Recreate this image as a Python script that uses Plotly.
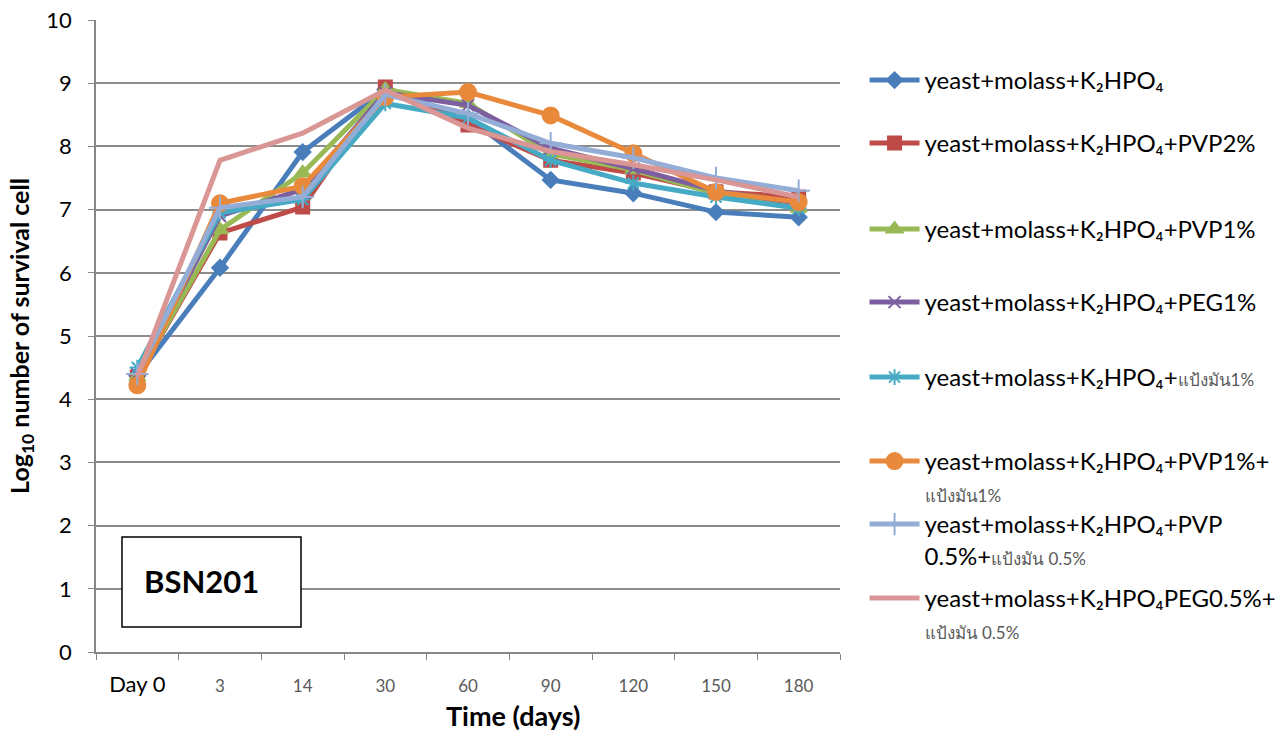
import plotly.graph_objects as go

categories = ["Day 0", "3", "14", "30", "60", "90", "120", "150", "180"]

s_k2hpo4 = [4.37, 6.08, 7.91, 8.90, 8.45, 7.47, 7.26, 6.96, 6.88]
s_pvp2 = [4.35, 6.63, 7.04, 8.94, 8.34, 7.78, 7.58, 7.28, 7.20]
s_pvp1 = [4.35, 6.68, 7.58, 8.90, 8.68, 7.88, 7.63, 7.25, 7.02]
s_peg1 = [4.40, 6.90, 7.32, 8.85, 8.65, 7.97, 7.65, 7.30, 7.10]
s_starch1 = [4.50, 6.95, 7.16, 8.68, 8.45, 7.78, 7.42, 7.20, 7.02]
s_pvp1_starch1 = [4.22, 7.10, 7.37, 8.78, 8.86, 8.49, 7.89, 7.28, 7.12]
s_pvp05_starch05 = [4.40, 7.03, 7.20, 8.82, 8.52, 8.05, 7.82, 7.50, 7.30]
s_peg05_starch05 = [4.35, 7.78, 8.21, 8.89, 8.29, 7.92, 7.71, 7.47, 7.20]

y_ticks = list(range(0, 11))

thai = "<span style='font-size:17px;color:#595959'>%s</span>"
series = [
    ("yeast+molass+K₂HPO₄", s_k2hpo4, "#4A7EBB", "diamond", 12),
    ("yeast+molass+K₂HPO₄+PVP2%", s_pvp2, "#BE4B48", "square", 13),
    ("yeast+molass+K₂HPO₄+PVP1%", s_pvp1, "#98B954", "triangle-up", 14),
    ("yeast+molass+K₂HPO₄+PEG1%", s_peg1, "#7D5FA0", "x-thin-open", 12),
    ("yeast+molass+K₂HPO₄+" + thai % "แป้งมัน1%", s_starch1, "#46AAC4", "asterisk-open", 13),
    ("yeast+molass+K₂HPO₄+PVP1%+<br>" + thai % "แป้งมัน1%", s_pvp1_starch1, "#E8893C", "circle", 16),
    ("yeast+molass+K₂HPO₄+PVP<br>0.5%+" + thai % "แป้งมัน 0.5%", s_pvp05_starch05, "#94ADD6", "cross-thin-open", 16),
    ("yeast+molass+K₂HPO₄PEG0.5%+<br>" + thai % "แป้งมัน 0.5%", s_peg05_starch05, "#D99694", None, 0),
]
legend_rows = [83, 146, 232, 305, 380, 464, 527, 601]  # pixel row of each legend entry

fig = go.Figure()
layout_legends = {}
for i, (name, vals, color, sym, size) in enumerate(series):
    mode = "lines+markers" if sym else "lines"
    marker = dict(symbol=sym, size=size, color=color, line=dict(color=color, width=2)) if sym else None
    lg = "legend" if i == 0 else "legend%d" % (i + 1)
    fig.add_trace(go.Scatter(
        x=categories, y=vals, name=name, mode=mode,
        line=dict(color=color, width=5),
        marker=marker, legend=lg,
    ))
    layout_legends[lg] = dict(
        x=1.033, y=(652 - (legend_rows[i] - 25)) / 632, xanchor="left", yanchor="top",
        font=dict(size=24, color="#000"), valign="top", itemwidth=50,
        bgcolor="rgba(0,0,0,0)",
    )

tick_text = ["<span style='font-size:22px;color:#000'>Day 0</span>"] + categories[1:]

fig.update_layout(
    width=1287, height=732,
    margin=dict(l=96, r=447, t=20, b=80, autoexpand=False),
    paper_bgcolor="white", plot_bgcolor="white",
    font=dict(family="Lato, Open Sans, sans-serif", color="#000"),
    showlegend=True,
    xaxis=dict(
        type="category", range=[-0.5, 8.5],
        tickvals=categories, ticktext=tick_text,
        tickfont=dict(size=17, color="#595959"),
        showgrid=False, showline=True, linecolor="#868686", linewidth=1.5,
        ticks="outside", tickson="boundaries", ticklen=6, tickcolor="#868686",
        ticklabelstandoff=18,
    ),
    yaxis=dict(
        range=[0, 10], tickvals=y_ticks,
        tickfont=dict(size=22, color="#000"),
        showgrid=True, gridcolor="#8C8C8C", gridwidth=1.5,
        showline=True, linecolor="#868686", linewidth=1.5,
        ticks="outside", ticklen=6, tickcolor="#868686",
        ticklabelstandoff=12,
        zeroline=False,
        title=dict(text="<b>Log<sub>10</sub> number of survival cell</b>", font=dict(size=25), standoff=10),
    ),
    **layout_legends,
)

# x-axis title (offset to the right of centre, as in the original)
fig.add_annotation(xref="paper", yref="paper", x=(513 - 96) / 744, y=(652 - 715) / 632,
                   xanchor="center", yanchor="middle", showarrow=False,
                   text="<b>Time (days)</b>", font=dict(size=27, color="#000"))

fig.add_shape(type="rect", xref="paper", yref="paper",
              x0=(122 - 96) / 744, x1=(301 - 96) / 744,
              y0=(652 - 627) / 632, y1=(652 - 537) / 632,
              line=dict(color="#000", width=1.5), fillcolor="white", layer="above")
fig.add_annotation(xref="paper", yref="paper", x=(201 - 96) / 744, y=(652 - 581) / 632,
                   xanchor="center", yanchor="middle",
                   text="<b>BSN201</b>", showarrow=False, font=dict(size=31, color="#000"))

fig.write_html("out.html")
